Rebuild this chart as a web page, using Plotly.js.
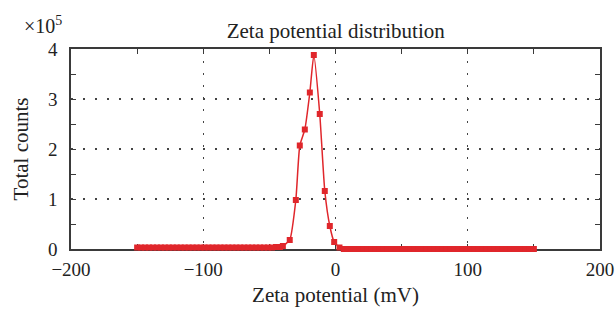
<!DOCTYPE html>
<html><head><meta charset="utf-8">
<script src="https://cdn.plot.ly/plotly-3.0.1.min.js"></script>
<style>html,body{margin:0;padding:0;background:#fff}#chart{width:616px;height:309px}</style>
</head><body><div id="chart"></div>
<script>
// Zeta potential (mV) and total counts (x 10^5)
const zetaLeft = [-150,-147,-144,-141,-138,-135,-132,-129,-126,-123,-120,-117,-114,-111,-108,-105,-102,-99,-96,-93,-90,-87,-84,-81,-78,-75,-72,-69,-66,-63,-60,-57,-54,-51,-48,-45,-42];
const countsLeft = [0.03,0.03,0.03,0.03,0.03,0.03,0.03,0.03,0.03,0.03,0.03,0.03,0.03,0.03,0.03,0.03,0.03,0.03,0.03,0.03,0.03,0.03,0.03,0.03,0.03,0.03,0.03,0.03,0.03,0.03,0.03,0.03,0.03,0.03,0.03,0.04,0.04];
const zetaPeak = [-39.8,-34.6,-30.0,-27.0,-23.2,-19.4,-16.4,-11.9,-8.1,-4.3,-1.0,3.0,6.3];
const countsPeak = [0.06,0.18,0.98,2.07,2.39,3.13,3.88,2.70,1.16,0.46,0.14,0.03,0.0];
const zetaRight = [9,12,15,18,21,24,27,30,33,36,39,42,45,48,51,54,57,60,63,66,69,72,75,78,81,84,87,90,93,96,99,102,105,108,111,114,117,120,123,126,129,132,135,138,141,144,147,150];
const countsRight = [0,0,0,0,0,0,0,0,0,0,0,0,0,0,0,0,0,0,0,0,0,0,0,0,0,0,0,0,0,0,0,0,0,0,0,0,0,0,0,0,0,0,0,0,0,0,0,0];

const xs = zetaLeft.concat(zetaPeak, zetaRight);
const ys = countsLeft.concat(countsPeak, countsRight);

const fam = '"Liberation Serif", "DejaVu Serif", serif';
const tickFont = {family: fam, size: 19, color: '#222'};
const titleFont = {family: fam, size: 21, color: '#222'};
const axisCommon = {
  showline: true, linecolor: '#3a3a3a', linewidth: 1.8, mirror: 'ticks',
  ticks: 'inside', ticklen: 5, tickcolor: '#3a3a3a', tickwidth: 1,
  showgrid: true, gridcolor: '#444', griddash: '1.5px,10.5px', gridwidth: 1.2,
  zeroline: false, tickfont: tickFont, layer: 'below traces'
};
const layout = {
  width: 616, height: 309,
  margin: {l: 71, r: 16, t: 49, b: 60},
  paper_bgcolor: '#fff', plot_bgcolor: '#fff',
  font: tickFont, showlegend: false,
  title: {text: 'Zeta potential distribution', font: titleFont, x: 0.545, xanchor: 'center', y: 0.9, yanchor: 'middle'},
  xaxis: Object.assign({}, axisCommon, {
    range: [-200, 200], dtick: 100, tick0: 0, ticklabelstandoff: 2,
    minor: {dtick: 50, ticks: 'inside', ticklen: 5, tickcolor: '#3a3a3a', showgrid: false},
    title: {text: 'Zeta potential (mV)', font: titleFont, standoff: 9}
  }),
  yaxis: Object.assign({}, axisCommon, {
    range: [0, 4], dtick: 1, tick0: 0, ticklabelstandoff: 8,
    minor: {dtick: 0.5, ticks: 'inside', ticklen: 5, tickcolor: '#3a3a3a', showgrid: false},
    title: {text: 'Total counts', font: titleFont, standoff: 13}
  }),
  annotations: [{
    text: '×10<sup>5</sup>', xref: 'paper', yref: 'paper', x: 0, y: 1, xanchor: 'center', yanchor: 'bottom',
    xshift: -28, yshift: 10, showarrow: false, font: {family: fam, size: 20, color: '#222'}
  }]
};
Plotly.newPlot('chart', [{
  x: xs, y: ys, type: 'scatter', mode: 'lines+markers', cliponaxis: false,
  line: {color: '#e0262b', width: 1.5, shape: 'spline', smoothing: 0.5},
  marker: {symbol: 'square', size: 6, color: '#e0262b'}
}], layout, {displayModeBar: false, staticPlot: true});
</script></body></html>
